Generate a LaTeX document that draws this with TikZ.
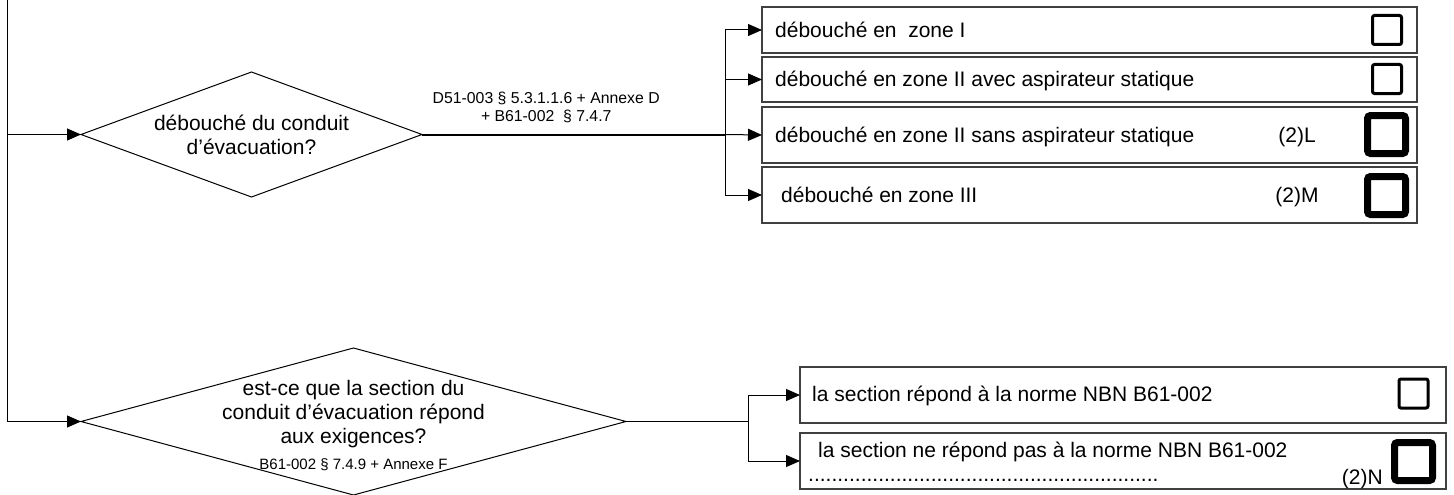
\documentclass[tikz,border=0pt]{standalone}
\usepackage{fontspec}
\setmainfont{Liberation Sans}
\usetikzlibrary{shapes.geometric,arrows.meta}
\tikzset{
  dec/.style={diamond,draw,line width=1pt,inner sep=0pt,outer sep=0pt},
  optbox/.style={rectangle,draw=black!75,line width=1.2pt,inner sep=0pt,outer sep=0pt,anchor=north west},
  conn/.style={line width=1pt},
  arr/.style={conn,-{Triangle[length=14pt,width=12pt]}},
  boxtxt/.style={anchor=base west,inner sep=0pt,font=\fontsize{21pt}{25pt}\selectfont},
  codetxt/.style={anchor=base,inner sep=0pt,font=\fontsize{21pt}{25pt}\selectfont},
  cbthin/.style={draw,line width=3pt,rounded corners=2pt,minimum width=29pt,minimum height=29pt,inner sep=0pt},
  cbthick/.style={draw,line width=7pt,rounded corners=3pt,minimum width=38pt,minimum height=38pt,inner sep=0pt},
  dtxt/.style={align=center,inner sep=0pt,font=\fontsize{21pt}{24pt}\selectfont},
  reftxt/.style={align=center,inner sep=0pt,font=\fontsize{15.8pt}{18pt}\selectfont},
}
\begin{document}
\begin{tikzpicture}[x=1pt,y=-1pt]
\useasboundingbox (0,0) rectangle (1454,495);

% diamonds
\node[dec,minimum width=341pt,minimum height=125pt] (d1) at (251.5,134.5) {};
\node[dtxt] (t1) at (251.5,135) {débouché du conduit\\d’évacuation?};
\node[dec,minimum width=545pt,minimum height=147pt] (d2) at (353.5,421.5) {};
\node[dtxt] (t2) at (353.5,414) {est-ce que la section du\\conduit d’évacuation répond\\aux exigences?};
\node[anchor=base,inner sep=0pt,font=\fontsize{15pt}{18pt}\selectfont] (t2ref) at (353.5,469.5) {B61-002 § 7.4.9 + Annexe F};

% top option boxes
\node[optbox,minimum width=655pt,minimum height=46pt] (b1) at (762,7) {};
\node[optbox,minimum width=655pt,minimum height=45pt] (b2) at (762,57) {};
\node[optbox,minimum width=655pt,minimum height=56pt] (b3) at (762,107) {};
\node[optbox,minimum width=655pt,minimum height=56pt] (b4) at (762,167) {};

\node[boxtxt] (l1) at (775,37.5) {débouché en\ \ zone I};
\node[boxtxt] (l2) at (775,87) {débouché en zone II avec aspirateur statique};
\node[boxtxt] (l3) at (775,142.5) {débouché en zone II sans aspirateur statique};
\node[codetxt] (c3) at (1297,142.5) {(2)L};
\node[boxtxt] (l4) at (781,202.5) {débouché en zone III};
\node[codetxt] (c4) at (1297,202.5) {(2)M};

\node[cbthin] (cb1) at (1387,30) {};
\node[cbthin] (cb2) at (1387,79) {};
\node[cbthick] (cb3) at (1386.5,134.5) {};
\node[cbthick] (cb4) at (1386.5,195.5) {};

% bottom option boxes
\node[optbox,minimum width=646pt,minimum height=56pt] (bA) at (800,367) {};
\node[optbox,minimum width=646pt,minimum height=56pt] (bB) at (800,433) {};
\node[boxtxt] (lA) at (812,401.5) {la section répond à la norme NBN B61-002};
\node[boxtxt] (lB) at (818,457) {la section ne répond pas à la norme NBN B61-002};
\node[boxtxt] (dots) at (808,481) {............................................................};
\node[anchor=base east,inner sep=0pt,font=\fontsize{21pt}{25pt}\selectfont] (cB) at (1383,484) {(2)N};
\node[cbthin] (cbA) at (1413.5,393.5) {};
\node[cbthick] (cbB) at (1413.5,461.5) {};

% connectors
\coordinate (top) at (7,0);
\coordinate (br1) at (725,134.5);
\coordinate (br2) at (748,421.5);
\draw[arr] (top) |- (d1.west);
\draw[arr] (top) |- (d2.west);
\draw[line width=2pt] (d1.east) -- node[reftxt,pos=0.41,yshift=27pt] (ref1) {D51-003 § 5.3.1.1.6 + Annexe D\\+ B61-002\ \ § 7.4.7} (br1);
\draw[arr] (br1) |- (b1.west);
\draw[arr] (br1) |- (b2.west);
\draw[arr] (br1) -- (b3.west);
\draw[arr] (br1) |- (b4.west);
\draw[conn] (d2.east) -- (br2);
\draw[arr] (br2) |- (bA.west);
\draw[arr] (br2) |- (bB.west);
\end{tikzpicture}
\end{document}
